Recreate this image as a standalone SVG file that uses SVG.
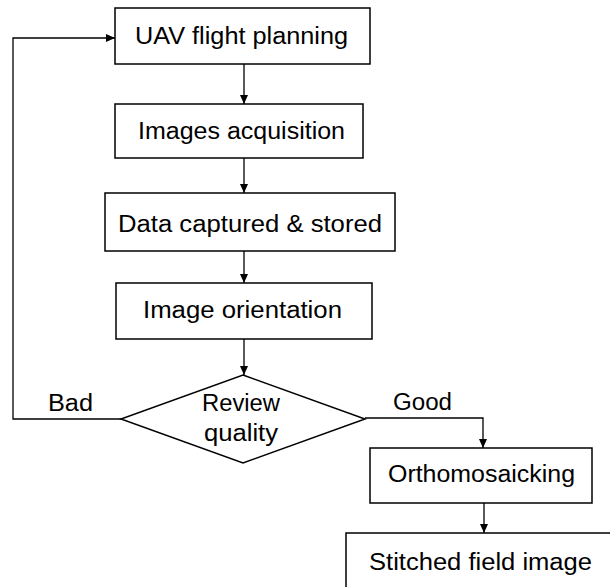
<svg xmlns="http://www.w3.org/2000/svg" width="610" height="587" viewBox="0 0 610 587">
<defs>
<marker id="arr" markerWidth="10" markerHeight="10" refX="9" refY="5" orient="auto" markerUnits="userSpaceOnUse">
<path d="M0,1 L9,5 L0,9 Z" fill="#000"/>
</marker>
<style>
.box{fill:#fff;stroke:#000;stroke-width:1.5}
.lbl{font-family:"Liberation Sans",Arial,sans-serif;font-size:23px;fill:#000;text-anchor:middle}
.edge{fill:none;stroke:#000;stroke-width:1.3}
</style>
</defs>
<rect width="610" height="587" fill="#fff"/>
<g id="connectors">
<line class="edge" x1="244" y1="64" x2="244" y2="104" marker-end="url(#arr)"/>
<line class="edge" x1="244" y1="158" x2="244" y2="193" marker-end="url(#arr)"/>
<line class="edge" x1="244" y1="251" x2="244" y2="283" marker-end="url(#arr)"/>
<line class="edge" x1="244" y1="339" x2="244" y2="375" marker-end="url(#arr)"/>
<polyline class="edge" points="121,419 13,419 13,38 115,38" marker-end="url(#arr)"/>
<polyline class="edge" points="365,418 483,418 483,448" marker-end="url(#arr)"/>
<line class="edge" x1="484" y1="503" x2="484" y2="533" marker-end="url(#arr)"/>
<text class="lbl" x="70.5" y="411" textLength="45" lengthAdjust="spacingAndGlyphs">Bad</text>
<text class="lbl" x="422.5" y="410" textLength="59" lengthAdjust="spacingAndGlyphs">Good</text>
</g>
<g id="n1">
<rect class="box" x="115" y="8" width="255" height="56"/>
<text class="lbl" x="241.5" y="44" textLength="213" lengthAdjust="spacingAndGlyphs">UAV flight  planning</text>
</g>
<g id="n2">
<rect class="box" x="115" y="104" width="248" height="54"/>
<text class="lbl" x="241.5" y="139" textLength="207" lengthAdjust="spacingAndGlyphs">Images acquisition</text>
</g>
<g id="n3">
<rect class="box" x="105" y="193" width="290" height="58"/>
<text class="lbl" x="250" y="232" textLength="264" lengthAdjust="spacingAndGlyphs">Data captured &amp; stored</text>
</g>
<g id="n4">
<rect class="box" x="116" y="283" width="256" height="56"/>
<text class="lbl" x="242.5" y="318" textLength="199" lengthAdjust="spacingAndGlyphs">Image orientation</text>
</g>
<g id="n5">
<polygon class="box" points="243,375 365,419 243,463 121,419"/>
<text class="lbl" x="241" y="411" textLength="78" lengthAdjust="spacingAndGlyphs">Review</text>
<text class="lbl" x="241" y="441" textLength="74" lengthAdjust="spacingAndGlyphs">quality</text>
</g>
<g id="n6">
<rect class="box" x="370" y="448" width="222" height="55"/>
<text class="lbl" x="481.5" y="482" textLength="187" lengthAdjust="spacingAndGlyphs">Orthomosaicking</text>
</g>
<g id="n7">
<rect class="box" x="346" y="533" width="280" height="70"/>
<text class="lbl" x="480.5" y="570" textLength="223" lengthAdjust="spacingAndGlyphs">Stitched field image</text>
</g>
</svg>
